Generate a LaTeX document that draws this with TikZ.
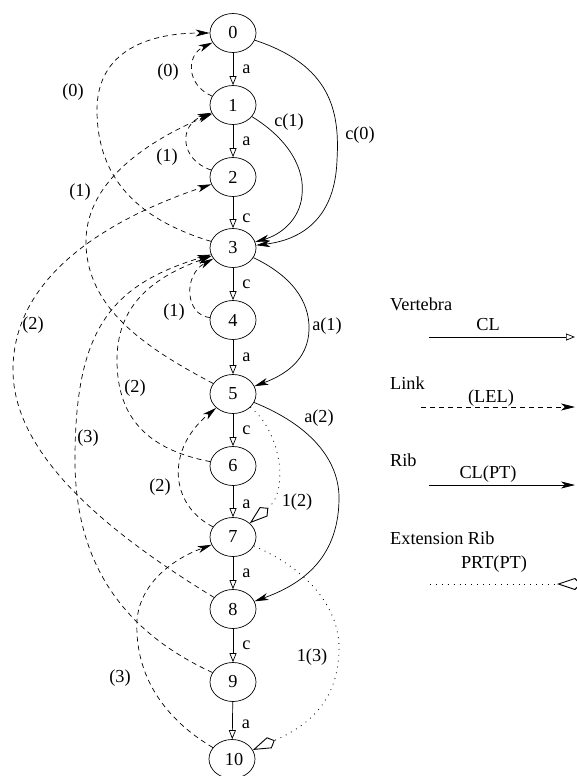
\documentclass[tikz,border=0pt]{standalone}
\usepackage{fontspec}
\setmainfont{Liberation Serif}
\usetikzlibrary{arrows.meta,shapes.geometric}
\tikzset{
  kitetip/.tip={Kite[open,length=24pt,width=12pt,inset=6pt,line width=0.9pt]},
  vnode/.style={draw, ellipse, minimum width=46pt, minimum height=39pt, inner sep=0pt, line width=0.7pt},
  vert/.style={line width=0.7pt, -{Triangle[open,length=9pt,width=7pt]}},
  linkedge/.style={line width=0.7pt, dash pattern=on 5pt off 4pt, -{Stealth[length=14pt,width=7pt,inset=4pt]}},
  ribedge/.style={line width=0.7pt, -{Stealth[length=14pt,width=7pt,inset=4pt]}},
  extline/.style={line width=0.8pt, dash pattern=on 0.9pt off 5pt},
  extedge/.style={extline, -kitetip},
  vlab/.style={anchor=west, inner sep=0pt, xshift=9pt},
  lab/.style={inner sep=0pt},
  legt/.style={anchor=west, inner sep=0pt},
}
\begin{document}
\begin{tikzpicture}[x=1pt, y=-1pt, font=\fontsize{18.3}{21}\selectfont]
\useasboundingbox (0,0) rectangle (576,776);
% nodes
\node[vnode] (n0) at (233,33) {0};
\node[vnode] (n1) at (233,105) {1};
\node[vnode] (n2) at (233,177) {2};
\node[vnode] (n3) at (233,248) {3};
\node[vnode] (n4) at (233,320) {4};
\node[vnode] (n5) at (233,394) {5};
\node[vnode] (n6) at (233,466) {6};
\node[vnode] (n7) at (233,537) {7};
\node[vnode] (n8) at (233,609) {8};
\node[vnode] (n9) at (233,682) {9};
\node[vnode] (n10) at (232,759) {\hspace*{4pt}10};
% vertebrae
\draw[vert] (n0) -- node[vlab]{a} (n1);
\draw[vert] (n1) -- node[vlab]{a} (n2);
\draw[vert] (n2) -- node[vlab, pos=0.7]{c} (n3);
\draw[vert] (n3) -- node[vlab]{c} (n4);
\draw[vert] (n4) -- node[vlab]{a} (n5);
\draw[vert] (n5) -- node[vlab]{c} (n6);
\draw[vert] (n6) -- node[vlab, pos=0.6]{a} (n7);
\draw[vert] (n7) -- node[vlab]{a} (n8);
\draw[vert] (n8) -- node[vlab]{c} (n9);
\draw[vert] (n9) -- node[vlab, pos=0.6]{a} (n10);
% links
\draw[linkedge] (n1) .. controls (186,85) and (186,55) .. (n0);
\node[lab] (l10) at (168,72) {(0)};
\draw[linkedge] (n3) .. controls (140,220) and (97,180) .. (97,110) .. controls (97,50) and (150,33) .. (n0);
\node[lab] (l30) at (73,92) {(0)};
\draw[linkedge] (n2) .. controls (180,160) and (178,125) .. (n1);
\node[lab] (l21) at (167,157) {(1)};
\draw[linkedge] (n5) .. controls (150,350) and (85,310) .. (86,240) .. controls (87,180) and (150,140) .. (n1);
\node[lab] (l51) at (80,192) {(1)};
\draw[linkedge] (n8) .. controls (120,540) and (13,460) .. (13,370) .. controls (13,270) and (120,215) .. (n2);
\node[lab] (l82) at (33,325) {(2)};
\draw[linkedge] (n9) .. controls (120,630) and (75,560) .. (75,460) .. controls (75,330) and (110,285) .. (n3);
\node[lab] (l93) at (88,438) {(3)};
\draw[linkedge] (n6) .. controls (150,450) and (117,420) .. (117,360) .. controls (117,300) and (160,275) .. (n3);
\node[lab] (l63) at (135,388) {(2)};
\draw[linkedge] (n4) .. controls (185,315) and (183,275) .. (n3);
\node[lab] (l43) at (174,312) {(1)};
\draw[linkedge] (n7) .. controls (170,505) and (165,450) .. (n5);
\node[lab] (l75) at (160,487) {(2)};
\draw[linkedge] (n10) .. controls (150,710) and (135,660) .. (137,620) .. controls (140,585) and (170,560) .. (n7);
\node[lab] (l107) at (120,678) {(3)};
% ribs
\draw[ribedge] (n0) .. controls (330,65) and (340,110) .. (337,160) .. controls (335,220) and (300,240) .. (n3);
\node[lab] (r03) at (360,135) {c(0)};
\draw[ribedge] (n1) .. controls (290,140) and (305,170) .. (302,195) .. controls (300,220) and (280,235) .. (n3);
\node[lab] (r13) at (289,122) {c(1)};
\draw[ribedge] (n3) .. controls (290,275) and (310,300) .. (309,330) .. controls (308,360) and (285,375) .. (n5);
\node[lab] (r35) at (327,326) {a(1)};
\draw[ribedge] (n5) .. controls (310,425) and (340,460) .. (339,500) .. controls (338,560) and (300,585) .. (n8);
\node[lab] (r58) at (319,418) {a(2)};
% extension ribs
\draw[extedge] (n5) .. controls (280,430) and (290,490) .. (n7);
\node[lab] (e57) at (297,502) {1(2)};
\draw[extedge] (n7) .. controls (310,570) and (340,610) .. (339,650) .. controls (338,700) and (310,725) .. (n10);
\node[lab] (e710) at (312,657) {1(3)};
% legend
\node[legt] (tv) at (390,304) {Vertebra};
\node[lab] (tcl) at (488,325) {CL};
\coordinate (va) at (429,337);
\coordinate (vb) at (575,337);
\draw[vert] (va) -- (vb);
\node[legt] (tl) at (390,383) {Link};
\node[lab] (tlel) at (491,398) {(LEL)};
\coordinate (la) at (421,407);
\coordinate (lb) at (575,407);
\draw[linkedge] (la) -- (lb);
\node[legt] (tr) at (390,460) {Rib};
\node[lab] (tclpt) at (488,474) {CL(PT)};
\coordinate (ra) at (429,485);
\coordinate (rb) at (575,485);
\draw[ribedge] (ra) -- (rb);
\node[legt] (te) at (390,538) {Extension Rib};
\node[lab] (tprt) at (494,564) {PRT(PT)};
\coordinate (ea) at (430,584);
\coordinate (eb) at (557,584);
\coordinate (ec) at (584,584);
\draw[extline] (ea) -- (eb);
\draw[line width=0.8pt, kitetip-] (eb) -- (ec);
\end{tikzpicture}
\end{document}
